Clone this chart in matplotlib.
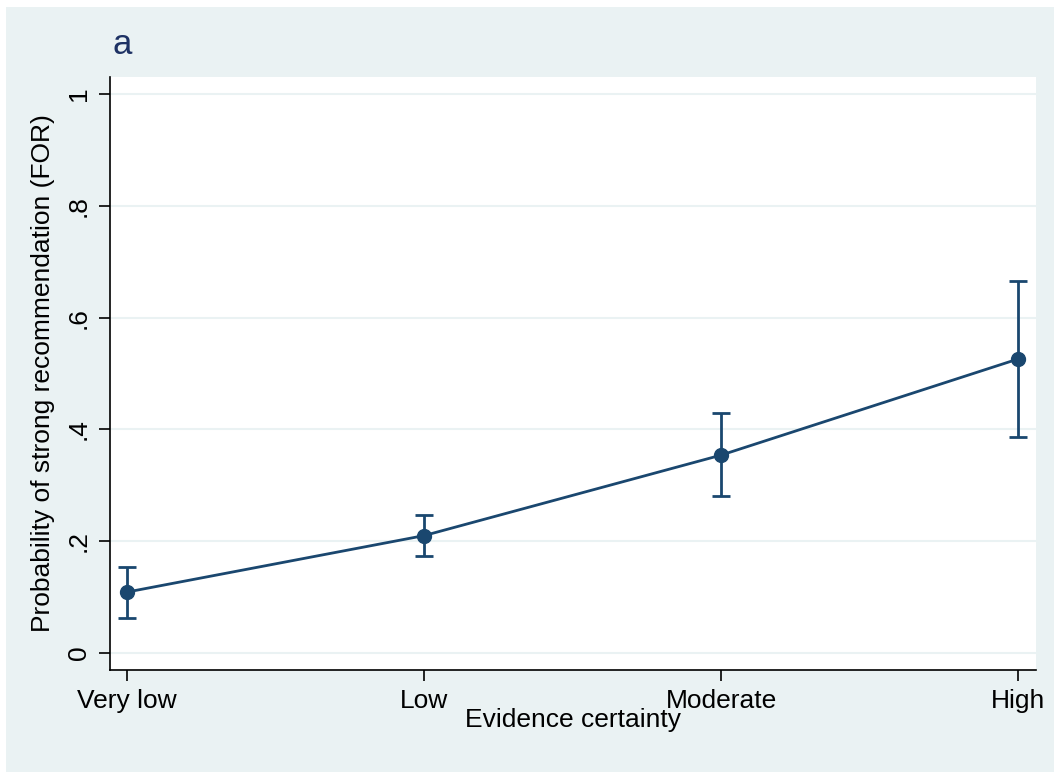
import numpy as np
import matplotlib
matplotlib.use("Agg")
import matplotlib.pyplot as plt
from matplotlib.patches import Rectangle

plt.rcParams['font.family'] = ['Liberation Sans', 'DejaVu Sans']

# data
categories = ["Very low", "Low", "Moderate", "High"]
prob = [0.109, 0.210, 0.354, 0.526]
ci_low = [0.063, 0.173, 0.281, 0.387]
ci_high = [0.154, 0.247, 0.429, 0.665]
yticks = [0, 0.2, 0.4, 0.6, 0.8, 1.0]
ytick_labels = ["0", ".2", ".4", ".6", ".8", "1"]

navy = "#1a476f"
bg = "#eaf2f3"

W, H = 1054, 772
fig = plt.figure(figsize=(W / 100, H / 100), dpi=100)
fig.patch.set_facecolor("white")
fig.patches.append(Rectangle((6 / W, 0), 1 - 6 / W, 1 - 7 / H, transform=fig.transFigure,
                             facecolor=bg, edgecolor="none", zorder=-10))

ax = fig.add_axes([110 / W, 1 - 670 / H, (1036 - 110) / W, (670 - 77) / H])
ax.set_zorder(1)
ax.set_facecolor("white")

x = np.arange(1, len(categories) + 1)
y = np.array(prob)
yerr = [y - np.array(ci_low), np.array(ci_high) - y]
ax.errorbar(x, y, yerr=yerr, color=navy, lw=2, elinewidth=2, capsize=6.5, capthick=2,
            marker="o", markersize=10, zorder=3)

ax.set_xlim(0.943, 4.06)
ax.set_ylim(-0.0304, 1.0304)
ax.set_yticks(yticks)
ax.set_yticklabels(ytick_labels, rotation=90, va="center")
ax.set_xticks(x)
ax.set_xticklabels(categories)
ax.yaxis.grid(True, color=bg, lw=1.5)
ax.set_axisbelow(True)

for s in ["top", "right"]:
    ax.spines[s].set_visible(False)
for s in ["left", "bottom"]:
    ax.spines[s].set_linewidth(1.2)
ax.tick_params(axis="both", direction="out", length=8, width=1.2, labelsize=19, colors="black")
ax.tick_params(axis="y", pad=6)
ax.tick_params(axis="x", pad=6)

ax.set_ylabel("Probability of strong recommendation (FOR)", fontsize=19, labelpad=8)
ax.set_xlabel("Evidence certainty", fontsize=19, labelpad=-4)
fig.text(112 / W, 1 - 44 / H, "a", fontsize=25, color="#1e3264", va="center", ha="left")

fig.savefig("out.png", dpi=100)
